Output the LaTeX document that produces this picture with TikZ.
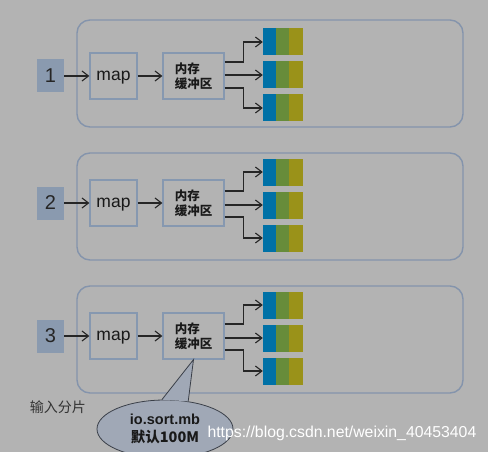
\documentclass[tikz,border=0pt]{standalone}
\usepackage{fontspec}
\setmainfont{Liberation Sans}
\newfontfamily\cjk{Noto Sans CJK SC}
\usetikzlibrary{arrows.meta,calc,positioning,shapes.geometric}

\definecolor{bggray}{HTML}{B3B3B3}
\definecolor{framec}{HTML}{8494AC}
\definecolor{boxc}{HTML}{8698B0}
\definecolor{numc}{HTML}{8A9AAF}
\definecolor{partblue}{HTML}{0071A6}
\definecolor{partgreen}{HTML}{678C3A}
\definecolor{partolive}{HTML}{9A9219}
\definecolor{bubfill}{HTML}{A0A8B6}
\definecolor{bubline}{HTML}{3A3F48}

\begin{document}
\begin{tikzpicture}[
  x=1pt,y=-1pt,
  >={Straight Barb[length=6.5pt,width=10pt]},
  task/.style={draw=framec,line width=1.4pt,rounded corners=13pt,
               minimum width=386pt,minimum height=107pt,inner sep=0pt},
  num/.style={fill=numc,minimum width=27pt,minimum height=33pt,inner sep=0pt,
              text=black!85,font=\fontsize{20}{20}\selectfont},
  mapbox/.style={draw=boxc,line width=1.2pt,minimum width=47pt,minimum height=46pt,
                 inner sep=0pt,text depth=0pt,text=black!90,
                 font=\fontsize{17.5}{17.5}\selectfont},
  bufbox/.style={draw=boxc,line width=1.2pt,minimum width=61pt,minimum height=46pt,
                 inner sep=0pt,align=left,text=black!90,
                 font=\cjk\bfseries\fontsize{12.5}{15}\selectfont},
  part/.style={minimum width=40pt,minimum height=27pt,inner sep=0pt,
    path picture={
      \fill[partblue] (path picture bounding box.south west) rectangle
            ([xshift=13pt]path picture bounding box.north west);
      \fill[partgreen] ([xshift=13pt]path picture bounding box.south west) rectangle
            ([xshift=26pt]path picture bounding box.north west);
      \fill[partolive] ([xshift=26pt]path picture bounding box.south west) rectangle
            (path picture bounding box.north east);
    }},
  wire/.style={draw=black!85,line width=1.1pt},
]

\fill[bggray] (0,0) rectangle (488,452);
\useasboundingbox (0,0) rectangle (488,452);

%% =====================================================
%%  MAP TASK 1
%% =====================================================
\node[task] (task1) at (270,73.5) {};
\node[num] (in1) at (50.5,76) {1};
\node[mapbox] (map1) at (113.5,76) {map};
\node[bufbox] (buf1) at (193.5,76) {内存\\缓冲区};
\node[part] (out1a) at (283,42) {};
\node[part] (out1b) at (283,75) {};
\node[part] (out1c) at (283,108) {};

\draw[wire,->] (in1) -- (map1);
\draw[wire,->] (map1) -- (buf1);
\draw[wire,->] ([yshift=14pt]buf1.east) -- ++(19,0) |- (out1a.west);
\draw[wire,->] (buf1.east |- out1b.west) -- (out1b.west);
\draw[wire,->] ([yshift=-12pt]buf1.east) -- ++(19,0) |- (out1c.west);

%% =====================================================
%%  MAP TASK 2
%% =====================================================
\node[task] (task2) at (270,206.5) {};
\node[num] (in2) at (50.5,203) {2};
\node[mapbox] (map2) at (113.5,203) {map};
\node[bufbox] (buf2) at (193.5,203) {内存\\缓冲区};
\node[part] (out2a) at (283,172) {};
\node[part] (out2b) at (283,205) {};
\node[part] (out2c) at (283,238) {};

\draw[wire,->] (in2) -- (map2);
\draw[wire,->] (map2) -- (buf2);
\draw[wire,->] ([yshift=12pt]buf2.east) -- ++(19,0) |- (out2a.west);
\draw[wire,->] (buf2.east |- out2b.west) -- (out2b.west);
\draw[wire,->] ([yshift=-14pt]buf2.east) -- ++(19,0) |- (out2c.west);

%% =====================================================
%%  MAP TASK 3
%% =====================================================
\node[task] (task3) at (270,339.5) {};
\node[num] (in3) at (50.5,336) {3};
\node[mapbox] (map3) at (113.5,336) {map};
\node[bufbox] (buf3) at (193.5,336) {内存\\缓冲区};
\node[part] (out3a) at (283,305) {};
\node[part] (out3b) at (283,338) {};
\node[part] (out3c) at (283,371) {};

\draw[wire,->] (in3) -- (map3);
\draw[wire,->] (map3) -- (buf3);
\draw[wire,->] ([yshift=12pt]buf3.east) -- ++(19,0) |- (out3a.west);
\draw[wire,->] (buf3.east |- out3b.west) -- (out3b.west);
\draw[wire,->] ([yshift=-14pt]buf3.east) -- ++(19,0) |- (out3c.west);

% input splits caption
\node[text=black!80,font=\cjk\fontsize{14}{14}\selectfont] (split) at (58,407) {输入分片};

%% =====================================================
%%  Callout for the buffer size
%% =====================================================
\node[ellipse,draw=bubline,fill=bubfill,line width=0.8pt,
      minimum width=136pt,minimum height=58pt,inner sep=0pt,align=center,
      text=black!90,font=\bfseries\fontsize{14.5}{17.5}\selectfont] (note) at (165,429)
     {io.sort.mb\\{\cjk 默认100M}};
\fill[bubfill] (note.96) -- (buf3.south) -- (note.50) -- cycle;
\draw[bubline,line width=0.8pt] (note.96) -- (buf3.south) -- (note.50);

% site mark
\node[anchor=west,text=white,font=\fontsize{15.8}{15.8}\selectfont] (mark) at (204,433)
     {https://blog.csdn.net/weixin\_40453404};

\end{tikzpicture}
\end{document}
